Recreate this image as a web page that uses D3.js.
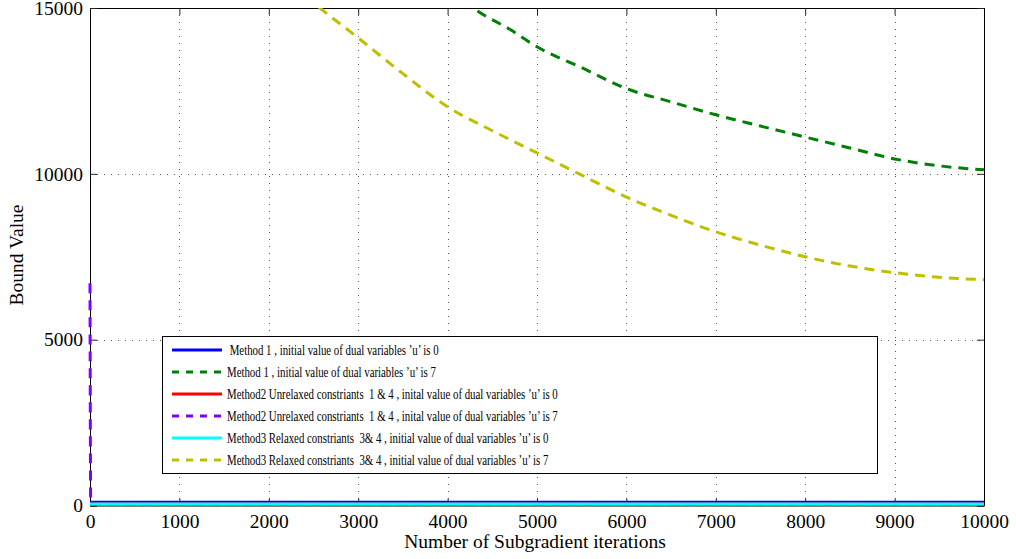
<!DOCTYPE html>
<html>
<head>
<meta charset="utf-8">
<script src="https://cdn.jsdelivr.net/npm/d3@7"></script>
<style>
  html, body { margin: 0; padding: 0; background: #fff; }
  svg { display: block; font-family: "Liberation Serif", "Times New Roman", serif; }
  .legend text { white-space: pre; }
</style>
</head>
<body>
<svg id="chart" width="1016" height="559"></svg>
<script>
// Axis ticks
const xTicks = [0, 1000, 2000, 3000, 4000, 5000, 6000, 7000, 8000, 9000, 10000];
const yTicks = [0, 5000, 10000, 15000];

// Series: iteration numbers and bound values
const m1u0Iter = [0, 10000];
const m1u0Val = [95, 95];

const m1u7Iter = [3000, 3600, 4000, 4284, 4700, 5000, 5500, 6000, 6500, 7000, 7500, 8000, 8500, 9000, 9500, 10000];
const m1u7Val = [17800, 16500, 15650, 15000, 14350, 13830, 13200, 12570, 12170, 11780, 11440, 11110, 10780, 10450, 10240, 10120];

const m2u0Iter = [0, 10000];
const m2u0Val = [45, 45];

const m2u7Iter = [0, 8, 10000];
const m2u7Val = [6700, 45, 45];

const m3u0Iter = [0, 10000];
const m3u0Val = [45, 45];

const m3u7Iter = [2000, 2573, 3000, 3500, 4000, 4500, 5000, 5500, 6000, 6500, 7000, 7500, 8000, 8500, 9000, 9500, 10000];
const m3u7Val = [16400, 15000, 14100, 13020, 12020, 11300, 10630, 9960, 9300, 8750, 8250, 7850, 7500, 7220, 7020, 6880, 6810];

const seriesNames = [
  " Method 1 , initial value of dual variables \u2019u\u2019 is 0",
  "Method 1 , initial value of dual variables \u2019u\u2019 is 7",
  "Method2 Unrelaxed constriants  1 & 4 , inital value of dual variables \u2019u\u2019 is 0",
  "Method2 Unrelaxed constriants  1 & 4 , inital value of dual variables \u2019u\u2019 is 7",
  "Method3 Relaxed constriants  3& 4 , initial value of dual variables \u2019u\u2019 is 0",
  "Method3 Relaxed constriants  3& 4 , initial value of dual variables \u2019u\u2019 is 7"
];
const seriesColors = ["#0000ff", "#008000", "#ff0000", "#7f00ff", "#00ffff", "#bfbf00"];
const seriesDashed = [false, true, false, true, false, true];

const series = [
  [m1u0Iter, m1u0Val], [m1u7Iter, m1u7Val],
  [m2u0Iter, m2u0Val], [m2u7Iter, m2u7Val],
  [m3u0Iter, m3u0Val], [m3u7Iter, m3u7Val]
].map(([it, v], i) => ({
  name: seriesNames[i],
  color: seriesColors[i],
  dashed: seriesDashed[i],
  points: it.map((d, j) => ({ x: d, y: v[j] }))
}));

const svg = d3.select("#chart");
const plotL = 90, plotR = 984, plotT = 8, plotB = 505.5;
const serif = "'Liberation Serif', 'Times New Roman', serif";

const x = d3.scaleLinear().domain([0, 10000]).range([plotL, plotR]);
const y = d3.scaleLinear().domain([0, 15000]).range([plotB, plotT]);

// Dotted grid
const grid = svg.append("g").attr("stroke", "#555").attr("stroke-width", 1)
  .attr("stroke-dasharray", "1,6").attr("shape-rendering", "crispEdges");
grid.selectAll("line.vx").data(xTicks.slice(1, -1)).join("line")
  .attr("x1", d => Math.round(x(d)) + 0.5).attr("x2", d => Math.round(x(d)) + 0.5)
  .attr("y1", plotB).attr("y2", plotT);
grid.selectAll("line.hy").data(yTicks.slice(1, -1)).join("line")
  .attr("y1", d => Math.round(y(d)) + 0.5).attr("y2", d => Math.round(y(d)) + 0.5)
  .attr("x1", plotL).attr("x2", plotR);

// Axes with inward ticks on all four sides
const tickLen = 7;
const axisFont = "19.5px";
const xAxisB = d3.axisBottom(x).tickValues(xTicks).tickSize(-tickLen).tickPadding(8.5).tickFormat(d3.format("d"));
const xAxisT = d3.axisTop(x).tickValues(xTicks).tickSize(-tickLen).tickFormat("");
const yAxisL = d3.axisLeft(y).tickValues(yTicks).tickSize(-tickLen).tickPadding(7).tickFormat(d3.format("d"));
const yAxisR = d3.axisRight(y).tickValues(yTicks).tickSize(-tickLen).tickFormat("");

function styleAxis(g) {
  g.attr("font-family", serif);
  g.select(".domain").attr("stroke", "#000").attr("stroke-width", 1);
  g.selectAll(".tick line").attr("stroke", "#222");
  g.selectAll(".tick text").attr("fill", "#000").style("font-size", axisFont)
    .style("font-family", serif);
}
svg.append("g").attr("transform", `translate(0,${plotB})`).call(xAxisB).call(styleAxis);
svg.append("g").attr("transform", `translate(0,${plotT})`).call(xAxisT).call(styleAxis);
svg.append("g").attr("transform", `translate(${plotL},0)`).call(yAxisL).call(styleAxis);
svg.append("g").attr("transform", `translate(${plotR},0)`).call(yAxisR).call(styleAxis);

// Axis titles
svg.append("text").attr("x", 535).attr("y", 548).attr("text-anchor", "middle")
  .style("font-size", "19.5px").style("font-family", serif).text("Number of Subgradient iterations");
svg.append("text").attr("transform", "translate(23,255) rotate(-90)").attr("text-anchor", "middle")
  .style("font-size", "19.5px").style("font-family", serif).text("Bound Value");

// Plot lines
svg.append("clipPath").attr("id", "plotClip").append("rect")
  .attr("x", plotL - 2).attr("y", plotT).attr("width", plotR - plotL + 4).attr("height", plotB - plotT + 2);

const line = d3.line().x(d => x(d.x)).y(d => y(d.y)).curve(d3.curveMonotoneX);
svg.append("g").attr("clip-path", "url(#plotClip)")
  .selectAll("path").data(series).join("path")
  .attr("d", d => line(d.points))
  .attr("fill", "none")
  .attr("stroke", d => d.color)
  .attr("stroke-width", 3)
  .attr("stroke-dasharray", d => d.dashed ? "10,7" : null);

// Legend
const lg = svg.append("g").attr("class", "legend");
lg.append("rect").attr("x", 162.5).attr("y", 336.5).attr("width", 715).attr("height", 137)
  .attr("fill", "#fff").attr("stroke", "#000").attr("stroke-width", 1);
const rows = lg.selectAll("g.row").data(series).join("g").attr("class", "row")
  .attr("transform", (d, i) => `translate(0,${350 + i * 22})`);
rows.append("line").attr("x1", 172).attr("x2", 222).attr("y1", 0).attr("y2", 0)
  .attr("stroke", d => d.color).attr("stroke-width", 3)
  .attr("stroke-dasharray", d => d.dashed ? "7,7" : null);
// narrow, tall lettering in the key
rows.append("text").attr("transform", "translate(227,5) scale(0.7,1)")
  .style("font-size", "15.5px").style("font-family", serif).text(d => d.name);
</script>
</body>
</html>
